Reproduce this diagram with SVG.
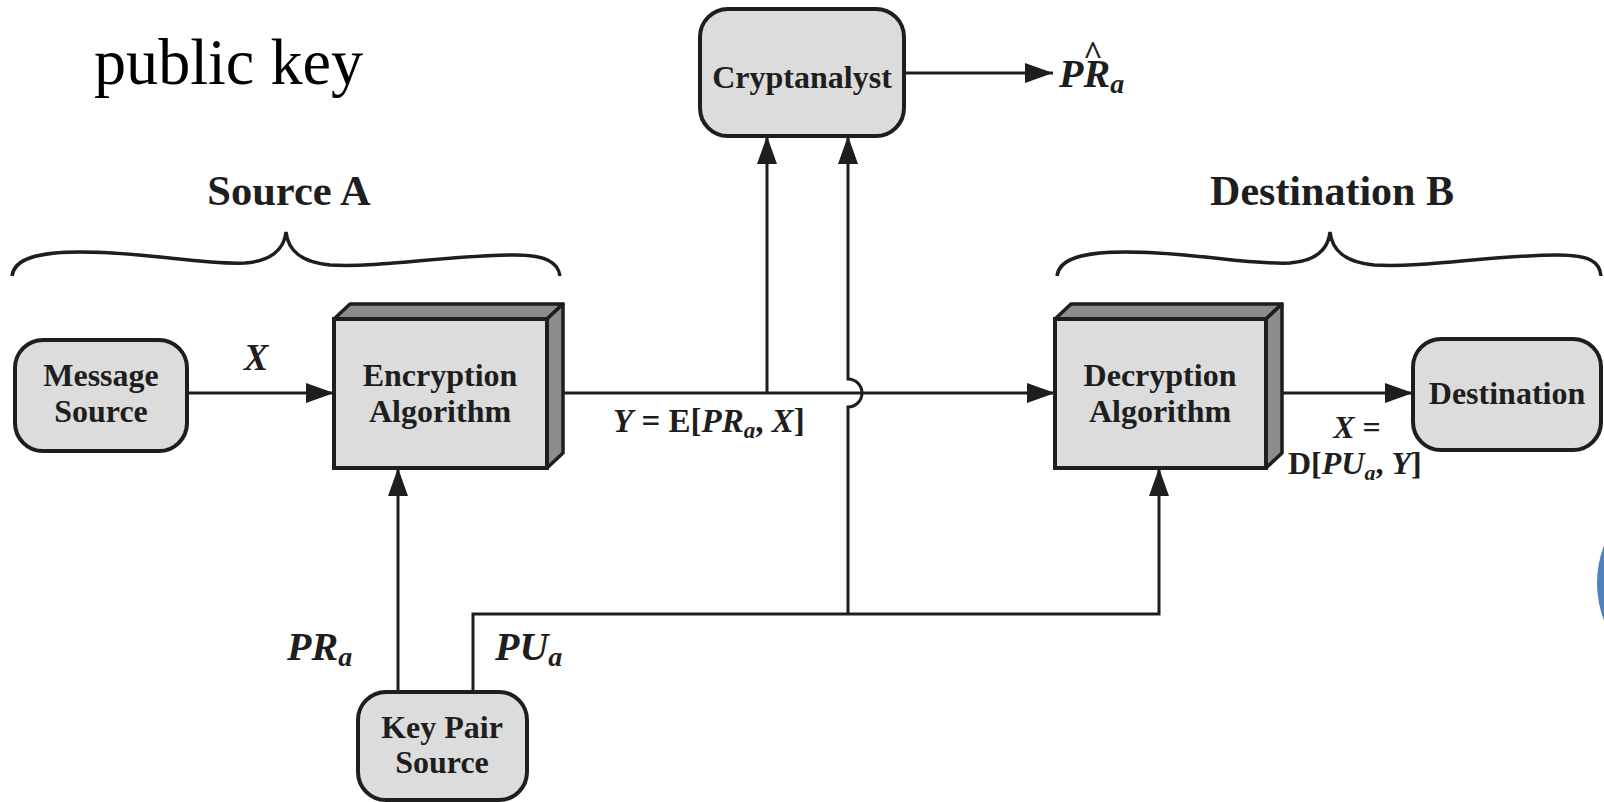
<svg xmlns="http://www.w3.org/2000/svg" width="1604" height="802" viewBox="0 0 1604 802">
<defs>
<style>
.box{fill:#dcdcdc;stroke:#1e1e1e;stroke-width:4}
.face{fill:#8c8c8c;stroke:#1e1e1e;stroke-width:3.5;stroke-linejoin:round}
.lbl{font-family:"Liberation Serif",serif;font-weight:bold;font-size:32px;fill:#1e1e1e;text-anchor:middle}
.math{font-family:"Liberation Serif",serif;font-weight:bold;fill:#1e1e1e}
.it{font-style:italic}
.conn{fill:none;stroke:#1e1e1e;stroke-width:3}
.brace{fill:none;stroke:#1e1e1e;stroke-width:3.5}
</style>
<marker id="arr" viewBox="0 0 28 20" refX="28" refY="10" markerWidth="28" markerHeight="20" markerUnits="userSpaceOnUse" orient="auto">
<path d="M0,0 L28,10 L0,20 z" fill="#1e1e1e"/>
</marker>
</defs>
<rect width="1604" height="802" fill="#ffffff"/>

<text x="94" y="84" font-family="Liberation Serif, serif" font-size="66" textLength="269" lengthAdjust="spacingAndGlyphs" fill="#000">public key</text>

<g id="sourceA">
<text x="289" y="205" class="math" font-size="42.5" text-anchor="middle">Source A</text>
<path class="brace" d="M12,276 C14,258 40,252 80,252 C150,252 200,265 245,263 C270,261 284,250 286,232 C288,250 300,262 330,265 C380,268 450,255 515,255 C545,255 558,262 560,276"/>
</g>
<g id="destB">
<text x="1332" y="205" class="math" font-size="42" text-anchor="middle">Destination B</text>
<path class="brace" d="M1057,276 C1059,258 1085,252 1125,252 C1195,252 1245,265 1290,263 C1315,261 1328,250 1330,232 C1332,250 1344,262 1374,265 C1424,268 1494,255 1557,255 C1590,255 1600,262 1601,276"/>
</g>

<g id="connectors">
<path class="conn" d="M187,393 H334" marker-end="url(#arr)"/>
<path class="conn" d="M547,393 H1055" marker-end="url(#arr)"/>
<path class="conn" d="M767,393 V136" marker-end="url(#arr)"/>
<path class="conn" d="M848,614 V407 A14,14 0 0 0 848,379 V136" marker-end="url(#arr)"/>
<path class="conn" d="M904,73 H1053" stroke-width="5.5" marker-end="url(#arr)"/>
<path class="conn" d="M398,692 V468" marker-end="url(#arr)"/>
<path class="conn" d="M473,692 V614 H1159 V468" marker-end="url(#arr)"/>
<path class="conn" d="M1266,393 H1413" marker-end="url(#arr)"/>
</g>

<g id="msgSource">
<rect class="box" x="15" y="340" width="172" height="111" rx="28"/>
<text class="lbl" x="101" y="386">Message</text>
<text class="lbl" x="101" y="422">Source</text>
</g>

<g id="encryption">
<polygon class="face" points="334,319 350,304 563,304 547,319"/>
<polygon class="face" points="547,319 563,304 563,453 547,468"/>
<rect class="box" x="334" y="319" width="213" height="149"/>
<text class="lbl" x="440" y="386">Encryption</text>
<text class="lbl" x="440" y="422">Algorithm</text>
</g>

<g id="decryption">
<polygon class="face" points="1055,319 1071,304 1282,304 1266,319"/>
<polygon class="face" points="1266,319 1282,304 1282,453 1266,468"/>
<rect class="box" x="1055" y="319" width="211" height="149"/>
<text class="lbl" x="1160" y="386">Decryption</text>
<text class="lbl" x="1160" y="422">Algorithm</text>
</g>

<g id="destination">
<rect class="box" x="1413" y="339" width="188" height="111" rx="28"/>
<text class="lbl" x="1507" y="404">Destination</text>
</g>

<g id="cryptanalyst">
<rect class="box" x="700" y="9" width="204" height="127" rx="28"/>
<text class="lbl" x="802" y="88">Cryptanalyst</text>
</g>

<g id="keyPair">
<rect class="box" x="358" y="692" width="169" height="108" rx="28"/>
<text class="lbl" x="442" y="738">Key Pair</text>
<text class="lbl" x="442" y="773">Source</text>
</g>

<g id="labels">
<text class="math it" x="256" y="370" font-size="37" text-anchor="middle">X</text>
<text class="math" x="613" y="432" font-size="33"><tspan class="it">Y</tspan> = E[<tspan class="it">PR</tspan><tspan class="it" font-size="23" dy="6">a</tspan><tspan dy="-6">, </tspan><tspan class="it">X</tspan>]</text>
<text class="math" x="1059" y="87" font-size="40"><tspan class="it">PR</tspan><tspan class="it" font-size="28" dy="6">a</tspan><tspan x="1093" y="64" font-size="34" text-anchor="middle">^</tspan></text>
<text class="math" x="1357" y="438" font-size="32" text-anchor="middle"><tspan class="it">X</tspan> =</text>
<text class="math" x="1288" y="474" font-size="32">D[<tspan class="it">PU</tspan><tspan class="it" font-size="22" dy="6">a</tspan><tspan dy="-6">, </tspan><tspan class="it">Y</tspan>]</text>
<text class="math" x="287" y="660" font-size="40"><tspan class="it">PR</tspan><tspan class="it" font-size="28" dy="6">a</tspan></text>
<text class="math" x="495" y="660" font-size="40"><tspan class="it">PU</tspan><tspan class="it" font-size="28" dy="6">a</tspan></text>
</g>

<circle cx="1701" cy="583" r="104" fill="#4f81bd"/>
</svg>
